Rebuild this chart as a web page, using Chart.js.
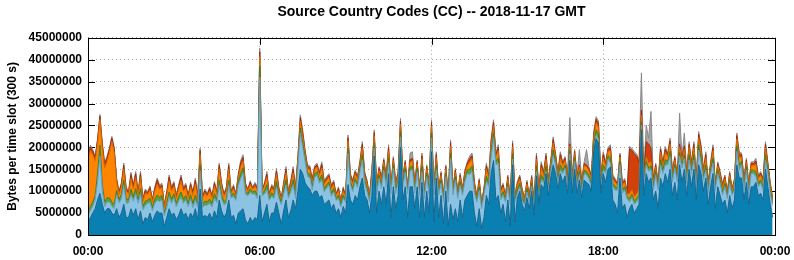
<!DOCTYPE html>
<html>
<head>
<meta charset="utf-8">
<title>Source Country Codes (CC)</title>
<script src="https://cdn.jsdelivr.net/npm/chart.js@4.4.1/dist/chart.umd.min.js"></script>
<style>
    html, body { margin: 0; padding: 0; background: #fff; }
</style>
</head>
<body>
<canvas id="cc-chart" width="794" height="260"></canvas>
<script>
// bytes per 5 minute slot, in millions (288 slots, 00:00 -> 23:55)
const darkBlue = [
    3, 4, 5, 6, 8, 9.5, 7, 5, 6, 6, 5, 4.5, 6, 4, 5, 7, 4, 4, 6, 4.5, 6, 3.5, 5.5, 2.5,
    4, 3.5, 5, 3, 4.5, 5.5, 5, 5, 2, 4, 6, 4.5, 5, 3.5, 4.5, 6, 4.5, 5, 3.5, 5, 4, 6, 3.5, 10.5,
    4, 4.5, 4, 5, 3.5, 5.5, 4, 8, 5.5, 4, 5, 8, 4, 4.5, 2.5, 5, 5.5, 6, 3.5, 2.5, 4, 3, 4, 3.5,
    9, 3, 5, 7, 3, 5, 5, 7.5, 5, 2.5, 5.5, 8, 4, 5.5, 8, 6, 10, 15, 14, 12, 11, 10.5, 9, 10,
    10, 8.5, 9, 7, 7.5, 8, 6, 7, 5, 6, 4, 6.5, 5, 11.5, 8, 7, 9, 8, 11, 13, 9, 8, 5, 9,
    18, 5, 10, 7, 11, 7, 14, 4, 11, 6, 9, 20, 8, 11, 4, 11, 11, 6, 11, 4, 12, 4, 10, 5,
    19, 3, 13, 4, 9, 2.5, 10, 2, 7, 3.5, 6, 3, 8, 4, 8, 9, 10, 10, 5, 2, 6, 1.5, 4, 9,
    7, 14, 17, 8, 9, 5, 7, 3, 8, 2, 16, 3, 8.5, 10, 7, 5.5, 8.5, 6, 10, 4.5, 13.5, 7, 11.5, 10.5,
    14, 9, 13, 16, 14, 10.5, 14, 12, 13.5, 9.5, 17, 9.5, 15, 9.5, 12.5, 8.5, 12.5, 12, 11.5, 10, 19, 22, 21, 9.5,
    14, 12, 15, 15.5, 8, 7, 5, 13, 6, 7, 4, 6, 7, 5, 6, 7, 24, 9, 14, 12, 13, 8, 10, 6,
    13, 11, 14, 12, 15, 9, 12, 8, 16, 12, 15, 9, 15, 11, 15, 8, 16, 14, 10, 13, 7, 11, 14, 6,
    11, 9, 7, 8, 5, 9, 6, 8, 16, 13, 13, 8, 12, 7, 11, 11, 12, 9, 9.5, 8, 15, 11, 7, 4,
];
const lightBlue = [
    1.5, 1.5, 1.5, 2, 4, 8.5, 3, 1.5, 1.5, 1.5, 1.5, 1.5, 3.2, 3.3, 3.2, 4.3, 3.2, 3.3, 3.2, 3.2, 3.4, 3.7, 3.9, 3.2,
    2.7, 3.7, 2.4, 2.5, 2.7, 2.4, 2.6, 3.0, 2.3, 2.2, 2.6, 2.7, 3.4, 2.9, 3.2, 2.6, 2.7, 3.0, 2.9, 3.2, 2.2, 1.9, 2.8, 4.2,
    2.3, 2.2, 2.8, 2.2, 2.9, 2.9, 3.3, 3.3, 2.7, 2.8, 2.2, 3.3, 4.4, 4.3, 5.4, 6.3, 7.3, 8.1, 5.8, 6.4, 5.7, 6.3, 5.3, 4.8,
    27, 5.9, 4.3, 3.3, 4.9, 3.8, 3.3, 3.5, 3.3, 4.4, 3.8, 3.4, 4.4, 4.3, 3.4, 2.3, 5.3, 8.2, 5.8, 4.8, 2.3, 2.6, 1.3, 3.1,
    3.7, 3.3, 3.5, 2.8, 3.1, 3.3, 2.8, 2.8, 2.9, 2.3, 2.4, 1.8, 2.4, 7.1, 3.3, 2.9, 3.1, 2.8, 3.3, 4.1, 2.7, 1.8, 2.5, 3.3,
    1.8, 4.1, 2.9, 3.6, 3.8, 4.0, 2.4, 5.4, 4.2, 3.5, 2.8, 2.4, 3.0, 3.4, 5.4, 3.6, 3.9, 3.5, 3.4, 5.1, 2.5, 4.3, 3.3, 4.3,
    3.1, 6.1, 1.8, 5.1, 2.8, 5.0, 3.3, 5.5, 10.5, 5.6, 6.5, 5.3, 3.4, 5.1, 4.1, 5.0, 3.8, 4.5, 4.5, 5.5, 4.2, 4.5, 5.1, 3.2,
    4.0, 3.8, 5.1, 8.0, 7.4, 3.0, 2.1, 4.5, 3.0, 4.8, 1.3, 4.5, 1.0, 1.0, 1.0, 1.3, 1.3, 1.5, 1.0, 1.5, 1.0, 1.0, 1.0, 1.3,
    0.5, 1.2, 1.4, 2.2, 2.0, 1.3, 0.8, 2.0, 1.7, 1.5, 1.5, 1.5, 1.8, 1.5, 1.2, 1.3, 1.5, 1.7, 1.3, 1.0, 0.4, 0.8, 0.8, 1.5,
    0.8, 2.0, 2.3, 0.9, 3.0, 3.2, 5.2, 3.0, 3.5, 3.2, 4.3, 1.5, 1.5, 2, 1.5, 1.5, 1, 2.3, 2, 2.5, 2, 2.2, 3.7, 4.2,
    3.0, 3.0, 2.0, 4.0, 2.9, 3.1, 3.3, 4.1, 2.0, 3.3, 2.5, 2.8, 2.1, 3.0, 2.1, 2.2, 3.4, 2.4, 2.5, 1.8, 2.5, 3.0, 2.4, 4.2,
    3.0, 2.8, 2.1, 3.0, 3.3, 2.8, 3.1, 2.2, 3.1, 1.8, 3.0, 2.2, 2.8, 2.1, 3.0, 3.0, 1.3, 2.0, 2.3, 2.2, 2.1, 3.0, 2.5, 2.9,
];
const green = [
    1, 1, 1, 1, 2, 2.5, 1.5, 1, 1, 1, 1, 1, 1, .8, 1, 1.2, 1, .8, 1.2, 1, 1.2, .8, 1.2, .8,
    1, .8, 1, .8, 1, 1.2, 1, 1, .8, 1, 1.2, 1, 1, .8, 1, 1.2, 1, 1, .8, 1, 1, 1.2, .8, 1.2,
    .8, 1, .8, 1, .8, 1, .8, 1.2, 1, .8, 1, 1.2, .5, .8, .5, .8, 1.2, 1.2, .8, .5, .8, .5, .8, .8,
    2.5, .5, .8, 1.2, .5, .8, .8, 1.2, .8, .5, .8, 1.2, .5, .8, 1.2, .8, .8, 1.2, 1.2, .8, .8, .8, .8, .8,
    .8, .8, 1.2, .8, .8, .8, .8, .8, .5, .8, .5, .8, .5, 1.2, .8, .8, .8, .8, .8, 1.2, .8, .8, .5, .8,
    1.2, .8, .8, .8, .8, .8, 1.2, .5, .8, .8, .8, 1.2, .8, .8, .5, .8, .8, .8, .8, .5, 1.2, .5, .8, .8,
    1.2, .5, 1.2, .5, .8, .5, .8, .5, 1.2, .5, .8, .5, .8, .5, .8, .8, 1.2, 1.2, .8, .5, .8, .5, .5, 1.2,
    .8, 1.2, 1.2, .8, 1.2, .8, .8, .5, .8, .5, 1.2, .5, .8, .8, .8, .5, .8, .5, .8, .5, 1.2, .8, 1.2, .8,
    1.2, .8, .8, 1.2, .8, .8, 1.2, .8, .8, .8, .8, .8, .8, .8, .8, .8, .8, .8, .8, .8, 1.2, 1.2, 1.2, .8,
    1.2, .8, .8, 1.2, .8, .8, .5, .8, .8, .8, .5, .8, .8, .8, .8, .8, .8, .8, .8, .8, .8, .8, .8, .5,
    1.2, .8, 1.2, .8, 1.2, .8, .8, .5, .8, .8, .8, .8, 1.2, .8, 1.2, .8, 1.2, 1.2, .8, 1.2, .8, .8, 1.2, .5,
    .8, .8, .8, .8, .5, .8, .5, .8, 1.2, 1.2, .8, .8, .8, .8, .8, .8, 1.2, .8, .8, .8, 1.2, .8, .8, .5,
];
const orange = [
    11.3, 12.8, 10.8, 7.8, 6.8, 5.8, 8.3, 7.8, 8.3, 10.3, 13.8, 11.8, 1.8, 1.2, 1.8, 2.5, 1.8, 1.2, 2.5, 1.8, 2.5, 1.2, 2.5, 1.2,
    1.8, 1.2, 1.8, 1.2, 1.8, 2.5, 1.8, 1.8, 1.2, 1.8, 2.5, 1.8, 1.8, 1.2, 1.8, 2.5, 1.8, 1.8, 1.2, 1.8, 1.8, 2.5, 1.2, 2.5,
    1.2, 1.8, 1.2, 1.8, 1.2, 1.8, 1.2, 2.5, 1.8, 1.2, 1.8, 2.5, .6, 1, .6, 1, 1.6, 1.6, 1, .6, 1, .6, 1, 1,
    2.2, .6, 1, 1.6, .6, 1, 1, 1.6, 1, .6, 1, 1.6, .6, 1, 1.6, 1, 1, 1.6, 1.6, 1, 1, 1, 1, 1,
    1, 1, 1.6, 1, 1, 1, 1, 1, .6, 1, .6, 1, .6, 1.6, 1, 1, 1, 1, 1, 1.6, 1, 1, .6, 1,
    1.6, 1, 1, 1, 1, 1, 1.6, .6, 1, 1, 1, 1.6, 1, 1, .6, 1.2, 1.2, 1, 1, .6, 1.6, .6, 1, 1,
    1.6, .6, 1.6, .6, 1, .6, 1, .6, 1.6, .6, 1, .6, 1, .6, 1, 1, 1.6, 1.6, 1, .6, 1, .6, .6, 1.6,
    1, 1.6, 1.6, 1, 1.6, 1, 1, .6, 1, .6, 1.6, .6, 1, 1, 1, .6, 1, .6, 1, .6, 1.6, 1, 1.6, 1,
    1.6, 1, 1, 1.6, 1, 1, 1.6, 1, 1, 1, 1, 1, 1, 1, 1, 1, 1, 1, 1, 1, 1.6, 1.6, 1.6, 1,
    1.6, 1, 1, 1.6, 1, 1, .6, 1, 1, 1, .6, 1, 1, 1, 1, 1, 1.5, 1, 1, 1, 1, 1, 1, .6,
    1.6, 1, 1.6, 1, 1.6, 1, 1, .6, 1.2, 1, 1.2, 1, 1.6, 1, 1.6, 1, 1.6, 1.6, 1, 1.6, 1, 1, 1.6, .6,
    1, 1, 1, 1, .6, 1, .6, 1, 1.6, 1.6, 1, 1, 1, 1, 1, 1, 1.6, 1, 1, 1, 1.6, 1, 1, .6,
];
const red = [
    .8, .8, .8, .8, .8, .8, .8, .8, .8, .8, .8, .8, .6, .4, .6, .9, .6, .4, .9, .6, .9, .4, .9, .4,
    .6, .4, .6, .4, .6, .9, .6, .6, .4, .6, .9, .6, .6, .4, .6, .9, .6, .6, .4, .6, .6, .9, .4, .9,
    .4, .6, .4, .6, .4, .6, .4, .9, .6, .4, .6, .9, .3, .5, .3, .5, .8, .8, .5, .3, .5, .3, .5, .5,
    1.1, .3, .5, .8, .3, .5, .5, .8, .5, .3, .5, .8, .3, .5, .8, .5, .5, .8, .8, .5, .5, .5, .5, .5,
    .5, .5, .8, .5, .5, .5, .5, .5, .3, .5, .3, .5, .3, .8, .5, .5, .5, .5, .5, .8, .5, .5, .3, .5,
    .8, .5, .5, .5, .5, .5, .8, .3, .5, .5, .5, .8, .5, .5, .3, .6, .6, .5, .5, .3, .8, .3, .5, .5,
    .8, .3, .8, .3, .5, .3, .5, .3, .8, .3, .5, .3, .5, .3, .5, .5, .8, .8, .5, .3, .5, .3, .3, .8,
    .5, .8, .8, .5, .8, .5, .5, .3, .5, .3, .8, .3, .5, .5, .5, .3, .5, .3, .5, .3, .8, .5, .8, .5,
    .8, .5, .5, .8, .5, .5, .8, .5, .5, .5, .5, .5, .5, .5, .5, .5, .5, .5, .5, .5, .8, .8, .8, .5,
    .8, .5, .5, .8, .5, .5, .3, .5, .5, .5, .3, 10.4, 9, 9.7, 8.7, 6.2, 1.2, .5, 3.5, 4.5, 3, .5, .5, .3,
    .8, .5, .8, .5, .8, .5, .5, .3, .8, .5, .8, .5, .8, .5, .8, .5, .8, .8, .5, .8, .5, .5, .8, .3,
    .5, .5, .5, .5, .3, .5, .3, .5, .8, .8, .5, .5, .5, .5, .5, .5, .8, .5, .5, .5, .8, .5, .5, .3,
];
const gray = [
    .4, .4, .4, .4, .4, .4, .4, .4, .4, .4, .4, .4, .4, .3, .4, .5, .4, .3, .5, .4, .5, .3, .5, .3,
    .4, .3, .4, .3, .4, .5, .4, .4, .3, .4, .5, .4, .4, .3, .4, .5, .4, .4, .3, .4, .4, .5, .3, .5,
    .3, .4, .3, .4, .3, .4, .3, .5, .4, .3, .4, .5, .2, .4, .2, .4, .6, .6, .4, .2, .4, .2, .4, .4,
    .8, .2, .4, .6, .2, .4, .4, .6, .4, .2, .4, .6, .2, .4, .6, .4, .4, .6, .6, .4, .4, .4, .4, .4,
    .4, .4, .6, .4, .4, .4, .4, .4, .2, .4, .2, .4, .2, .6, .4, .4, .4, .4, .4, .6, .4, .4, .2, .4,
    .6, .4, .4, .4, .4, .4, .6, .2, .4, .4, .4, .6, .4, .4, .2, 1.5, 1.5, .4, .4, .2, .6, .2, .4, .4,
    .6, .2, .6, .2, .4, .2, .4, .2, .6, .2, .4, .2, .4, .2, .4, .4, .6, .6, .4, .2, .4, .2, .2, .6,
    .4, .6, .6, .4, .6, .4, .4, .2, .4, .2, .6, .2, .4, .4, .4, .2, .4, .2, .4, .2, .6, .4, .6, .4,
    .6, .4, .4, .6, .4, .4, .6, .4, .4, .4, 6, .4, .4, .4, 3.5, .4, .4, 3.5, .4, .4, .6, .6, .6, .4,
    .6, .4, .4, .6, .4, .4, .2, .4, .4, .4, .2, .5, .5, .5, .5, .5, 8.5, .4, 3.8, 1.3, 8.4, .4, .4, .2,
    .6, .4, .6, .4, .6, .4, .4, .2, 7, .4, 3, .4, .6, .4, .6, .4, .6, .6, .4, .6, .4, .4, .6, .2,
    .4, .4, .4, .4, .2, .4, .2, .4, .6, .6, .4, .4, .4, .4, .4, .4, .6, .4, .4, .4, .6, .4, .4, .2,
];

const hourLabels = ["00:00", "06:00", "12:00", "18:00", "00:00"];
const slotsPerLabel = 72; // 6 hours of 5 minute slots

const FONT = "'Liberation Sans', Arial, Helvetica, sans-serif";

// gnuplot style frame: ticks point inwards on all four sides
const frame = {
    id: "frame",
    beforeDatasetsDraw(chart) {
        const { ctx, chartArea: a, scales } = chart;
        ctx.save();
        ctx.strokeStyle = "#000";
        ctx.lineWidth = 1;
        ctx.beginPath();
        scales.y.ticks.forEach((t) => {
            const y = Math.round(scales.y.getPixelForValue(t.value)) + 0.5;
            ctx.moveTo(a.left, y);
            ctx.lineTo(a.left + 7, y);
            ctx.moveTo(a.right, y);
            ctx.lineTo(a.right - 7, y);
        });
        scales.x.ticks.forEach((t) => {
            const x = Math.round(scales.x.getPixelForValue(t.value)) + 0.5;
            ctx.moveTo(x, a.top);
            ctx.lineTo(x, a.top + 7);
            ctx.moveTo(x, a.bottom);
            ctx.lineTo(x, a.bottom - 7);
        });
        ctx.stroke();
        ctx.restore();
    },
    afterDatasetsDraw(chart) {
        const { ctx, chartArea: a } = chart;
        ctx.save();
        ctx.strokeStyle = "#000";
        ctx.lineWidth = 1;
        ctx.strokeRect(
            Math.round(a.left) + 0.5,
            Math.round(a.top) + 0.5,
            Math.round(a.right - a.left),
            Math.round(a.bottom - a.top)
        );
        ctx.restore();
    },
};

function layer(label, values, fill, border, index) {
    return {
        label: label,
        data: values.map((v, i) => ({ x: i, y: v * 1000000 })),
        backgroundColor: fill,
        borderColor: border,
        borderWidth: 1,
        pointRadius: 0,
        tension: 0,
        fill: index === 0 ? "origin" : "-1",
    };
}

new Chart(document.getElementById("cc-chart"), {
    type: "line",
    data: {
        datasets: [
            layer("dark blue", darkBlue, "#0a80b2", "#17658e", 0),
            layer("light blue", lightBlue, "#8cc3e2", "#6b9ebf", 1),
            layer("green", green, "#5f9f3a", "#3f7d24", 2),
            layer("orange", orange, "#ff8400", "#d86a00", 3),
            layer("red", red, "#d2400c", "#a02c06", 4),
            layer("gray", gray, "#a6a6a6", "#888888", 5),
        ],
    },
    options: {
        responsive: false,
        animation: false,
        layout: {
            padding: { top: 0, right: 19, bottom: 0, left: 0 },
        },
        scales: {
            x: {
                type: "linear",
                min: 0,
                max: 288,
                afterFit: (scale) => {
                    scale.height = 25;
                    scale.paddingLeft = 0;
                    scale.paddingRight = 0;
                },
                ticks: {
                    stepSize: slotsPerLabel,
                    padding: 9,
                    color: "#000",
                    font: { family: FONT, size: 12, weight: "bold" },
                    callback: (value) => hourLabels[value / slotsPerLabel],
                    maxRotation: 0,
                },
                grid: {
                    color: "#a8a8a8",
                    drawTicks: false,
                },
                border: { display: false, dash: [1, 3] },
            },
            y: {
                stacked: true,
                min: 0,
                max: 45000000,
                afterFit: (scale) => {
                    scale.width = 88;
                },
                ticks: {
                    stepSize: 5000000,
                    padding: 6,
                    color: "#000",
                    font: { family: FONT, size: 12, weight: "bold" },
                    callback: (value) => String(value),
                },
                grid: {
                    color: "#a8a8a8",
                    drawTicks: false,
                },
                border: { display: false, dash: [1, 3] },
                title: {
                    display: true,
                    text: "Bytes per time slot (300 s)",
                    color: "#000",
                    font: { family: FONT, size: 12, weight: "bold" },
                    padding: { top: 5, bottom: 0 },
                },
            },
        },
        plugins: {
            legend: { display: false },
            tooltip: { enabled: false },
            title: {
                display: true,
                fullSize: false,
                text: "Source Country Codes (CC) -- 2018-11-17 GMT",
                color: "#000",
                font: { family: FONT, size: 14, weight: "bold" },
                padding: { top: 4, bottom: 17 },
            },
        },
    },
    plugins: [frame],
});
</script>
</body>
</html>
